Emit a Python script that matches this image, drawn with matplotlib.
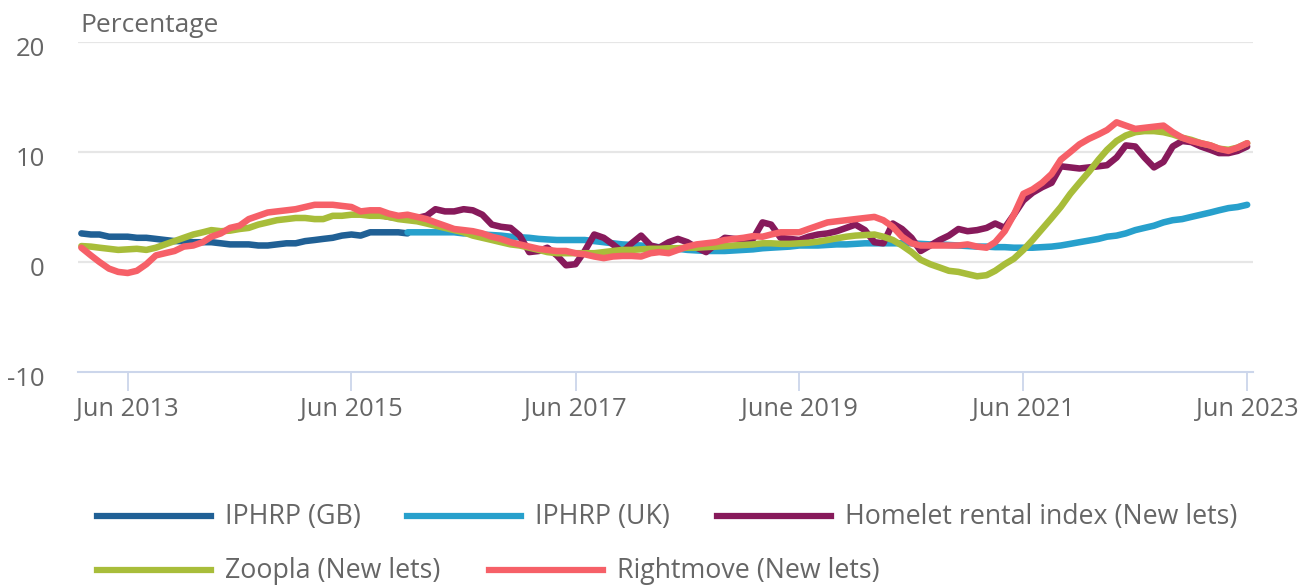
import numpy as np
import pandas as pd
import matplotlib
matplotlib.use("Agg")
import matplotlib.pyplot as plt
from matplotlib.lines import Line2D
from matplotlib.transforms import ScaledTranslation

plt.rcParams['font.family'] = ['Open Sans', 'DejaVu Sans']
plt.rcParams['axes.unicode_minus'] = False

# ---------------- data ----------------
start_month = '2013-01-01'
n_months = 126

iphrp_gb = [2.6, 2.5, 2.5, 2.3, 2.3, 2.3, 2.2, 2.2, 2.1, 2.0, 1.9, 1.9, 1.8, 1.8, 1.8, 1.7,
            1.6, 1.6, 1.6, 1.5, 1.5, 1.6, 1.7, 1.7, 1.9, 2.0, 2.1, 2.2, 2.4, 2.5, 2.4, 2.7,
            2.7, 2.7, 2.7, 2.6]  # Jan 2013 - Dec 2015

iphrp_uk = [2.7, 2.7, 2.7, 2.7, 2.7, 2.7, 2.6, 2.6, 2.5, 2.45, 2.4, 2.3, 2.25, 2.2, 2.1, 2.05, 2.0,
            2.0, 2.0, 2.0, 1.9, 1.8, 1.7, 1.6, 1.55, 1.5, 1.4, 1.35, 1.3, 1.2, 1.1, 1.05, 1.0,
            1.0, 1.0, 1.05, 1.1, 1.15, 1.25, 1.3, 1.35, 1.4, 1.5, 1.5, 1.5, 1.55, 1.6, 1.6, 1.65,
            1.7, 1.7, 1.7, 1.7, 1.7, 1.7, 1.65, 1.6, 1.6, 1.55, 1.5, 1.45, 1.4, 1.4, 1.35, 1.35,
            1.3, 1.3, 1.3, 1.35, 1.4, 1.5, 1.65, 1.8, 1.95, 2.1, 2.3, 2.4, 2.6, 2.9, 3.1, 3.3,
            3.6, 3.8, 3.9, 4.1, 4.3, 4.5, 4.7, 4.9, 5.0, 5.2]  # Dec 2015 - Jun 2023

homelet = [4.3, 4.1, 4.0, 4.0, 4.0, 4.2, 4.8, 4.6, 4.6, 4.8, 4.7, 4.3, 3.4, 3.2, 3.1, 2.4,
           0.9, 1.0, 1.3, 0.6, -0.3, -0.2, 1.0, 2.5, 2.2, 1.6, 0.9, 1.7, 2.4, 1.5, 1.3, 1.8,
           2.1, 1.8, 1.3, 0.9, 1.6, 2.2, 2.1, 2.0, 2.1, 3.6, 3.4, 2.2, 2.1, 2.0, 2.3, 2.5,
           2.6, 2.8, 3.1, 3.4, 2.9, 1.8, 1.7, 3.5, 3.0, 2.2, 1.0, 1.5, 2.0, 2.4, 3.0, 2.8,
           2.9, 3.1, 3.5, 3.1, 4.3, 5.6, 6.3, 6.8, 7.2, 8.7, 8.6, 8.5, 8.6, 8.7, 8.8, 9.5,
           10.6, 10.5, 9.5, 8.6, 9.1, 10.5, 11.0, 10.9, 10.5, 10.2, 9.9, 9.9, 10.1, 10.5]  # Sep 2015 - Jun 2023

zoopla = [1.45, 1.4, 1.3, 1.2, 1.1, 1.15, 1.2, 1.1, 1.3, 1.6, 1.9, 2.2, 2.5, 2.7, 2.9, 2.8,
          2.85, 3.0, 3.1, 3.4, 3.6, 3.8, 3.9, 4.0, 4.0, 3.9, 3.9, 4.2, 4.2, 4.3, 4.3, 4.2,
          4.2, 4.1, 3.9, 3.8, 3.7, 3.5, 3.3, 3.1, 2.9, 2.7, 2.4, 2.2, 2.0, 1.8, 1.6, 1.5,
          1.3, 1.1, 0.9, 0.8, 0.8, 0.8, 0.8, 0.8, 0.9, 1.0, 1.1, 1.1, 1.15, 1.2, 1.2, 1.25,
          1.25, 1.3, 1.3, 1.35, 1.4, 1.45, 1.5, 1.55, 1.6, 1.7, 1.7, 1.65, 1.65, 1.7, 1.75, 1.85,
          2.0, 2.15, 2.3, 2.4, 2.45, 2.5, 2.3, 2.0, 1.5, 0.9, 0.2, -0.2, -0.5, -0.8, -0.9, -1.1,
          -1.3, -1.2, -0.8, -0.2, 0.3, 1.1, 2.0, 3.0, 4.0, 5.0, 6.2, 7.2, 8.2, 9.3, 10.2, 11.0,
          11.5, 11.8, 11.9, 11.9, 11.8, 11.6, 11.3, 11.1, 10.8, 10.6, 10.3, 10.2, 10.4, 10.8]

rightmove = [1.3, 0.6, 0.0, -0.6, -0.9, -1.0, -0.8, -0.2, 0.6, 0.8, 1.0, 1.4, 1.5, 1.8, 2.3, 2.6,
             3.1, 3.3, 3.9, 4.2, 4.5, 4.6, 4.7, 4.8, 5.0, 5.2, 5.2, 5.2, 5.1, 5.0, 4.6, 4.7,
             4.7, 4.4, 4.2, 4.3, 4.1, 3.9, 3.6, 3.3, 3.0, 2.9, 2.8, 2.6, 2.3, 2.1, 1.8, 1.6,
             1.4, 1.2, 1.1, 1.0, 1.0, 0.8, 0.7, 0.5, 0.35, 0.5, 0.55, 0.55, 0.5, 0.8, 0.9, 0.8,
             1.1, 1.4, 1.6, 1.7, 1.8, 2.0, 2.1, 2.2, 2.35, 2.3, 2.5, 2.7, 2.7, 2.7, 3.0, 3.3,
             3.6, 3.7, 3.8, 3.9, 4.0, 4.1, 3.8, 3.2, 2.3, 1.7, 1.5, 1.5, 1.5, 1.5, 1.5, 1.6,
             1.4, 1.3, 1.8, 2.8, 4.3, 6.2, 6.6, 7.2, 8.0, 9.3, 10.0, 10.7, 11.2, 11.6, 12.0, 12.7,
             12.4, 12.1, 12.2, 12.3, 12.4, 11.8, 11.3, 11.0, 10.8, 10.6, 10.3, 10.1, 10.4, 10.8]

series_names = ['IPHRP (GB)', 'IPHRP (UK)', 'Homelet rental index (New lets)',
                'Zoopla (New lets)', 'Rightmove (New lets)']
series_colors = ['#206095', '#27a0cc', '#871a5b', '#a8bd3a', '#f66068']

tick_dates = ['2013-06-01', '2015-06-01', '2017-06-01', '2019-06-01', '2021-06-01', '2023-06-01']
tick_labels = ['Jun 2013', 'Jun 2015', 'Jun 2017', 'June 2019', 'Jun 2021', 'Jun 2023']
y_ticks = [-10, 0, 10, 20]
y_title = 'Percentage'

# ---------------- plot ----------------
dates = pd.date_range(start_month, periods=n_months, freq='MS')
W, H = 1309, 585
fig = plt.figure(figsize=(W / 100, H / 100), dpi=100)
ax_l, ax_r, ax_t, ax_b = 78, 1253, 42, 372
ax = fig.add_axes([ax_l / W, 1 - ax_b / H, (ax_r - ax_l) / W, (ax_b - ax_t) / H])

text_col = '#666666'
grid_col = '#e6e6e6'
axis_col = '#ccd6eb'

series_data = [
    (dates[:len(iphrp_gb)], iphrp_gb),
    (dates[n_months - len(iphrp_uk):], iphrp_uk),
    (dates[n_months - len(homelet):], homelet),
    (dates[:len(zoopla)], zoopla),
    (dates[:len(rightmove)], rightmove),
]
lw = 4.7
for (x, y), c in zip(series_data, series_colors):
    ax.plot(x, y, color=c, lw=lw, solid_capstyle='round', solid_joinstyle='round', zorder=3)

ax.set_ylim(-10, 20)
ax.set_yticks(y_ticks)
ax.set_xlim(pd.Timestamp('2012-12-21'), pd.Timestamp('2023-06-20'))
ax.set_xticks(pd.to_datetime(tick_dates))
ax.set_xticklabels(tick_labels)

for yv in y_ticks[1:]:
    ax.axhline(yv, color=grid_col, lw=1.6, zorder=1)

for s in ['top', 'right', 'left']:
    ax.spines[s].set_visible(False)
ax.spines['bottom'].set_color(axis_col)
ax.spines['bottom'].set_linewidth(1.5)

ax.tick_params(axis='y', length=0, pad=24, labelsize=18.5, labelcolor=text_col)
ax.tick_params(axis='x', length=14, width=1.3, color=axis_col, pad=4, labelsize=18.3,
               labelcolor=text_col)
for lab in ax.get_yticklabels():
    lab.set_transform(lab.get_transform() + ScaledTranslation(0, -4 / 100, fig.dpi_scale_trans))

fig.text(80 / W, 1 - 26 / H, y_title, ha='left', va='center', fontsize=19, color=text_col)

# legend, drawn manually in figure pixels
legend_items = [
    (95, 516, 0), (405, 516, 1), (715, 516, 2),
    (95, 570, 3), (487, 570, 4),
]
for lx, ly, i in legend_items:
    fig.add_artist(Line2D([(lx + 2) / W, (lx + 116) / W], [1 - ly / H, 1 - ly / H],
                          transform=fig.transFigure, color=series_colors[i], lw=4.5))
    fig.text((lx + 130) / W, 1 - (ly + 1) / H, series_names[i], ha='left', va='center',
             fontsize=19.3, color=text_col)

fig.savefig('out.png', dpi=100)
